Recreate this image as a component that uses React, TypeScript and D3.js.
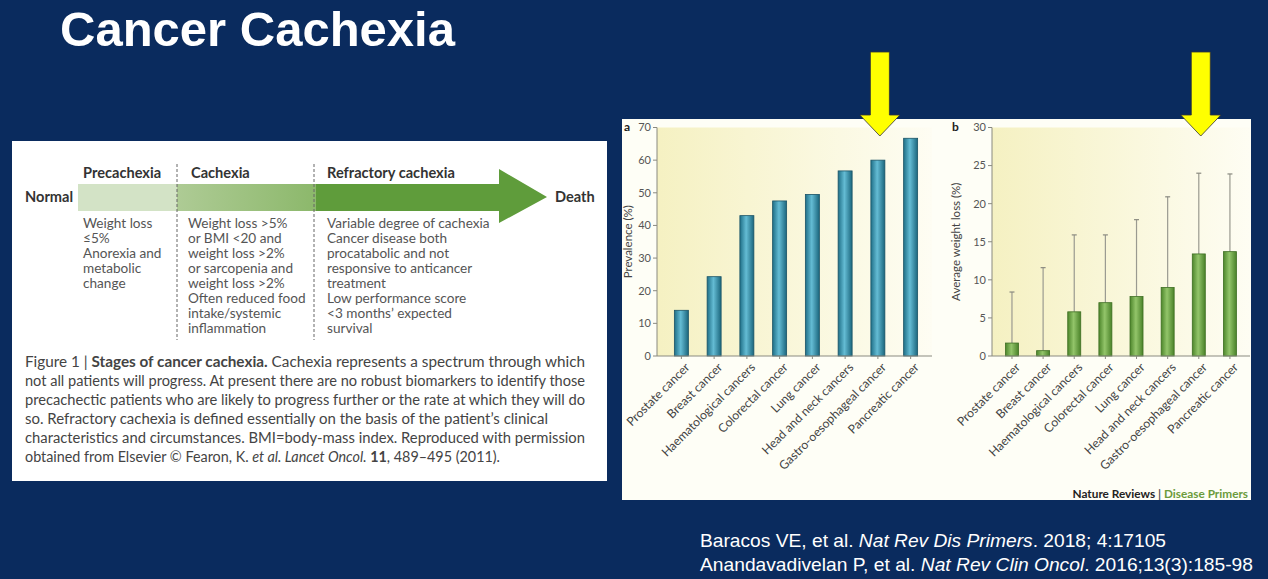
import React from "react";
import * as d3 from "d3";

const categories = [
  "Prostate cancer",
  "Breast cancer",
  "Haematological cancers",
  "Colorectal cancer",
  "Lung cancer",
  "Head and neck cancers",
  "Gastro-oesophageal cancer",
  "Pancreatic cancer",
];
const prevalence = [14, 24.3, 43, 47.5, 49.5, 56.7, 60, 66.7];
const weightLoss = [1.7, 0.7, 5.8, 7.0, 7.8, 9.0, 13.4, 13.7];
const weightLossUpper = [8.4, 11.6, 15.9, 15.9, 17.9, 20.9, 24.0, 23.9];
const prevTicks = [0, 10, 20, 30, 40, 50, 60, 70];
const wlTicks = [0, 5, 10, 15, 20, 25, 30];
const highlighted = ["Gastro-oesophageal cancer"];

const precachexiaText = ["Weight loss", "≤5%", "Anorexia and", "metabolic", "change"];
const cachexiaText = [
  "Weight loss >5%",
  "or BMI <20 and",
  "weight loss >2%",
  "or sarcopenia and",
  "weight loss >2%",
  "Often reduced food",
  "intake/systemic",
  "inflammation",
];
const refractoryText = [
  "Variable degree of cachexia",
  "Cancer disease both",
  "procatabolic and not",
  "responsive to anticancer",
  "treatment",
  "Low performance score",
  "<3 months’ expected",
  "survival",
];
const captionLines = [
  "not all patients will progress. At present there are no robust biomarkers to identify those",
  "precachectic patients who are likely to progress further or the rate at which they will do",
  "so. Refractory cachexia is defined essentially on the basis of the patient’s clinical",
  "characteristics and circumstances. BMI=body-mass index. Reproduced with permission",
];
const captionWidths = [560, 560, 560, 523, 560, 475];

const BG = "#0a2b5e";
const PANEL_FONT = "Lato, 'Noto Sans', sans-serif";

function BarPanel(props: {
  x0: number; x1: number; axisX: number; axisEnd: number; yMax: number; values: number[];
  upper?: number[]; ticks: number[]; grad: string; stroke: string; barW: number;
  yLabel: string; yLabelX: number; letter: string; letterX: number; bgId: string;
}) {
  const { x0, x1, axisX, axisEnd, yMax, values, upper, ticks, grad, stroke, barW, yLabel, yLabelX, letter, letterX, bgId } = props;
  const x = d3.scaleBand<string>().domain(categories).range([x0, x1]).paddingInner(0).paddingOuter(0);
  const y = d3.scaleLinear().domain([0, yMax]).range([356, 127.5]);
  const cx = (c: string) => (x(c) as number) + x.bandwidth() / 2;
  return (
    <g>
      <rect x={axisX} y={y(yMax)} width={axisEnd - axisX} height={y(0) - y(yMax)} fill={`url(#${bgId})`} />
      <line x1={axisX} x2={axisX} y1={y(0)} y2={y(yMax)} stroke="#8a8a80" strokeWidth={1} />
      {ticks.map((t) => (
        <g key={t}>
          <line x1={axisX - 4} x2={axisX} y1={y(t)} y2={y(t)} stroke="#8a8a80" />
          <text x={axisX - 6} y={y(t)} dy="0.35em" textAnchor="end" fontSize={11} fill="#555" fontFamily={PANEL_FONT}>{t}</text>
        </g>
      ))}
      {upper && categories.map((c, i) => (
        <g key={c}>
          <line x1={cx(c)} x2={cx(c)} y1={y(values[i])} y2={y(upper[i])} stroke="#9a9a90" strokeWidth={1.2} />
          <line x1={cx(c) - 2.5} x2={cx(c) + 2.5} y1={y(upper[i])} y2={y(upper[i])} stroke="#8a8a80" strokeWidth={1.2} />
        </g>
      ))}
      {categories.map((c, i) => (
        <rect key={c} x={cx(c) - barW / 2} y={y(values[i])} width={barW} height={y(0) - y(values[i])}
          fill={`url(#${grad})`} stroke={stroke} strokeWidth={0.8} />
      ))}
      <line x1={axisX} x2={axisEnd} y1={y(0)} y2={y(0)} stroke="#8a8a80" strokeWidth={1} />
      {categories.map((c) => (
        <g key={c}>
          <line x1={cx(c)} x2={cx(c)} y1={y(0)} y2={y(0) + 3} stroke="#8a8a80" />
          <text transform={`translate(${cx(c) + 3},${y(0) + 6}) rotate(-45)`} textAnchor="end" dy="0.7em"
            fontSize={12.2} fill="#444" fontFamily={PANEL_FONT}>{c}</text>
        </g>
      ))}
      <text transform={`translate(${yLabelX},${(y(0) + y(yMax)) / 2}) rotate(-90)`} textAnchor="middle"
        fontSize={11.5} fill="#444" fontFamily={PANEL_FONT}>{yLabel}</text>
      <text x={letterX} y={131} fontSize={12} fontWeight="bold" fill="#222" fontFamily={PANEL_FONT}>{letter}</text>
    </g>
  );
}

function YellowArrow({ cx }: { cx: number }) {
  const p = d3.path();
  p.moveTo(cx - 9.5, 52);
  p.lineTo(cx + 9.5, 52);
  p.lineTo(cx + 9.5, 115);
  p.lineTo(cx + 20, 115);
  p.lineTo(cx, 136);
  p.lineTo(cx - 20, 115);
  p.lineTo(cx - 9.5, 115);
  p.closePath();
  return <path d={p.toString()} fill="#ffff00" stroke="#333" strokeWidth={0.8} />;
}

export default function App() {
  const xA = d3.scaleBand<string>().domain(categories).range([665, 927]);
  const xB = d3.scaleBand<string>().domain(categories).range([996.4, 1245.5]);
  const arrowA = (xA(highlighted[0]) as number) + xA.bandwidth() / 2 + 2;
  const arrowB = (xB(highlighted[0]) as number) + xB.bandwidth() / 2 + 2;
  const bandY0 = 184, bandY1 = 211;
  return (
    <svg width={1268} height={579} style={{ position: "absolute", left: 0, top: 0 }}>
      <defs>
        <linearGradient id="tealBar" x1="0" x2="1" y1="0" y2="0">
          <stop offset="0" stopColor="#1f6f87" />
          <stop offset="0.45" stopColor="#64bcd4" />
          <stop offset="1" stopColor="#1b667d" />
        </linearGradient>
        <linearGradient id="greenBar" x1="0" x2="1" y1="0" y2="0">
          <stop offset="0" stopColor="#4d862b" />
          <stop offset="0.45" stopColor="#93c56a" />
          <stop offset="1" stopColor="#4a8229" />
        </linearGradient>
        <linearGradient id="plotBgA" x1="0" x2="1" y1="0" y2="0">
          <stop offset="0" stopColor="#f5f1c2" />
          <stop offset="1" stopColor="#fefdf3" />
        </linearGradient>
        <linearGradient id="plotBgB" x1="0" x2="1" y1="0" y2="0">
          <stop offset="0" stopColor="#f5f1c2" />
          <stop offset="1" stopColor="#fefdf3" />
        </linearGradient>
        <linearGradient id="cachBand" x1="0" x2="1" y1="0" y2="0">
          <stop offset="0" stopColor="#aecb95" />
          <stop offset="1" stopColor="#8cb86b" />
        </linearGradient>
      </defs>
      <rect x={0} y={0} width={1268} height={579} fill={BG} />
      <text x={60} y={46} fontSize={49} fontWeight="bold" fill="#ffffff" fontFamily="'Liberation Sans', Arial, sans-serif">Cancer Cachexia</text>

      <rect x={12} y={141} width={595} height={340} fill="#ffffff" />
      <rect x={78} y={bandY0} width={99} height={bandY1 - bandY0} fill="#d3e3c6" />
      <rect x={177} y={bandY0} width={139} height={bandY1 - bandY0} fill="url(#cachBand)" />
      <path d={`M316,${bandY0}L499,${bandY0}L499,169L547,197L499,223L499,${bandY1}L316,${bandY1}Z`} fill="#5f9c3b" />
      <line x1={177} x2={177} y1={164} y2={340} stroke="#666" strokeDasharray="3,2" strokeWidth={1} />
      <line x1={314} x2={314} y1={164} y2={340} stroke="#666" strokeDasharray="3,2" strokeWidth={1} />
      <g fontFamily={PANEL_FONT} fill="#333" fontWeight="bold" fontSize={14.6}>
        <text x={83} y={178}>Precachexia</text>
        <text x={191} y={178}>Cachexia</text>
        <text x={327} y={178}>Refractory cachexia</text>
        <text x={25} y={202}>Normal</text>
        <text x={555} y={202}>Death</text>
      </g>
      <g fontFamily={PANEL_FONT} fill="#555" fontSize={13.6}>
        {precachexiaText.map((t, i) => <text key={i} x={83} y={228 + i * 15}>{t}</text>)}
        {cachexiaText.map((t, i) => <text key={i} x={188} y={228 + i * 15}>{t}</text>)}
        {refractoryText.map((t, i) => <text key={i} x={327} y={228 + i * 15}>{t}</text>)}
      </g>
      <g fontFamily={PANEL_FONT} fill="#444" fontSize={14.8}>
        <text x={25} y={367} textLength={captionWidths[0]} lengthAdjust="spacingAndGlyphs">Figure 1 | <tspan fontWeight="bold">Stages of cancer cachexia.</tspan> Cachexia represents a spectrum through which</text>
        {captionLines.map((t, i) => (
          <text key={i} x={25} y={386 + i * 19} textLength={captionWidths[i + 1]} lengthAdjust="spacingAndGlyphs">{t}</text>
        ))}
        <text x={25} y={462} textLength={captionWidths[5]} lengthAdjust="spacingAndGlyphs">obtained from Elsevier © Fearon, K. <tspan fontStyle="italic">et al. Lancet Oncol.</tspan> <tspan fontWeight="bold">11</tspan>, 489–495 (2011).</text>
      </g>

      <rect x={622} y={119} width={629} height={381} fill="#fefef6" />
      <BarPanel x0={665} x1={927} axisX={657} axisEnd={932} yMax={70} values={prevalence} ticks={prevTicks}
        grad="tealBar" stroke="#1a5366" barW={14} yLabel="Prevalence (%)" yLabelX={632} letter="a" letterX={624} bgId="plotBgA" />
      <BarPanel x0={996.4} x1={1245.5} axisX={992} axisEnd={1250} yMax={30} values={weightLoss} upper={weightLossUpper}
        ticks={wlTicks} grad="greenBar" stroke="#3d6e22" barW={13} yLabel="Average weight loss (%)" yLabelX={960}
        letter="b" letterX={952} bgId="plotBgB" />
      <text x={1248} y={498} textAnchor="end" fontSize={11.8} fontWeight="bold" fontFamily={PANEL_FONT}>
        <tspan fill="#222">Nature Reviews</tspan><tspan fill="#555"> | </tspan><tspan fill="#6b9b3c">Disease Primers</tspan>
      </text>

      <YellowArrow cx={arrowA} />
      <YellowArrow cx={arrowB} />

      <g fill="#ffffff" fontFamily="'Liberation Sans', Arial, sans-serif" fontSize={18.2}>
        <text x={700} y={547} textLength={466} lengthAdjust="spacingAndGlyphs">Baracos VE, et al. <tspan fontStyle="italic">Nat Rev Dis Primers</tspan>. 2018; 4:17105</text>
        <text x={700} y={571} textLength={553} lengthAdjust="spacingAndGlyphs">Anandavadivelan P, et al. <tspan fontStyle="italic">Nat Rev Clin Oncol</tspan>. 2016;13(3):185-98</text>
      </g>
    </svg>
  );
}
